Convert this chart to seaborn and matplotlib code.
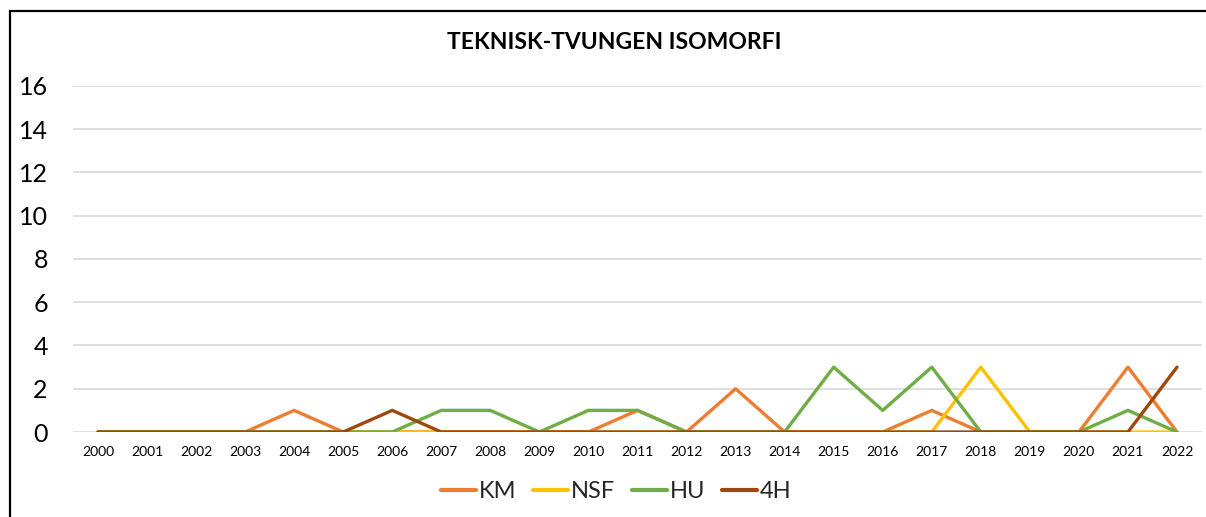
import matplotlib
matplotlib.use("Agg")
import matplotlib.pyplot as plt
import seaborn as sns
import pandas as pd
from matplotlib.lines import Line2D
from matplotlib.patches import Rectangle

years = list(range(2000, 2023))
km  = [0,0,0,0,1,0,0,0,0,0,0,1,0,2,0,0,0,1,0,0,0,3,0]
nsf = [0,0,0,0,0,0,0,0,0,0,0,0,0,0,0,0,0,0,3,0,0,0,0]
hu  = [0,0,0,0,0,0,0,1,1,0,1,1,0,0,0,3,1,3,0,0,0,1,0]
h4  = [0,0,0,0,0,0,1,0,0,0,0,0,0,0,0,0,0,0,0,0,0,0,3]
series_names = ["KM", "NSF", "HU", "4H"]
colors = ["#ED7D31", "#FFC000", "#70AD47", "#9E480E"]
title = "TEKNISK-TVUNGEN ISOMORFI"
yticks = [0, 2, 4, 6, 8, 10, 12, 14, 16]

rows = []
for name, vals in zip(series_names, [km, nsf, hu, h4]):
    for i, (y, v) in enumerate(zip(years, vals)):
        rows.append({"pos": i, "year": str(y), "value": v, "series": name})
df = pd.DataFrame(rows)

sns.set_theme(style="white")
plt.rcParams["font.family"] = ["Lato", "DejaVu Sans"]

fig = plt.figure(figsize=(12.06, 5.17), dpi=100)
ax = fig.add_axes([0.0609, 0.1644, 0.9354, 0.6693])

sns.lineplot(data=df, x="pos", y="value", hue="series", hue_order=series_names,
             palette=colors, linewidth=2.4, ax=ax, legend=False, zorder=3)

ax.set_xlim(-0.5, len(years) - 0.5)
ax.set_ylim(0, 16)
ax.set_yticks(yticks)
ax.set_yticklabels([str(t) for t in yticks], fontsize=18, color="#000000")
ax.set_xticks(range(len(years)))
ax.set_xticklabels([str(y) for y in years], fontsize=10, color="#000000")
ax.tick_params(axis="y", length=0, pad=18.5)
ax.tick_params(axis="x", length=0, pad=10)
for y in yticks:
    ax.axhline(y, color="#D9D9D9", linewidth=1.2, zorder=1)
for s in ax.spines.values():
    s.set_visible(False)
ax.set_xlabel("")
ax.set_ylabel("")

fig.text(0.509, 0.917, title, ha="center", va="center", fontsize=16.5,
         fontweight="bold", color="#000000")

handles = [Line2D([0], [0], color=c, linewidth=3) for c in colors]
fig.legend(handles, series_names, loc="center", bbox_to_anchor=(0.511, 0.049),
           ncol=4, frameon=False, fontsize=17, handlelength=1.48,
           handletextpad=0.13, columnspacing=0.7)

fig.add_artist(Rectangle((10 / 1206, -0.2), 1.5, 1 - 11 / 517 + 0.2,
                         transform=fig.transFigure, fill=False,
                         edgecolor="#000000", linewidth=1.6, clip_on=False))

fig.savefig("out.png", dpi=100, facecolor="white")
